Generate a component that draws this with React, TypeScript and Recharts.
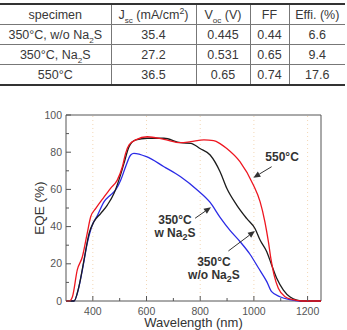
import React from "react";
import {
  LineChart,
  Line,
  XAxis,
  YAxis,
  ReferenceLine,
  ReferenceArea,
  ReferenceDot,
} from "recharts";

// device parameters
const tableHead = ["specimen", "J_{sc} (mA/cm^{2})", "V_{oc} (V)", "FF", "Effi. (%)"];
const specimens = ["350°C, w/o Na_{2}S", "350°C, Na_{2}S", "550°C"];
const jsc = ["35.4", "27.2", "36.5"];
const voc = ["0.445", "0.531", "0.65"];
const ff = ["0.44", "0.65", "0.74"];
const effi = ["6.6", "9.4", "17.6"];

// EQE spectra, [wavelength nm, EQE %]
const eqe550: number[][] = [
  [300, 0], [312, 0], [324, 2.3], [342, 16.7], [361, 23.8], [379, 36.4], [392, 45.3],
  [411, 49.8], [442, 56], [466, 60.6], [491, 65], [510, 72.2], [522, 79.4], [535, 83.9],
  [560, 86.6], [603, 88.3], [665, 86.9], [727, 85.1], [765, 85.7], [814, 86.6], [850, 86.2],
  [875, 84.5], [899, 82], [948, 74.9], [998, 62.4], [1023, 53.4], [1041, 42.6], [1054, 31.9],
  [1063, 23], [1075, 14], [1091, 6.8], [1116, 2.3], [1147, 0.7], [1180, 0], [1250, 0],
];
const eqe350noNa: number[][] = [
  [300, 0], [330, 0], [348, 7.7], [367, 22], [386, 36.4], [404, 42.6], [429, 47],
  [454, 51.6], [479, 57.9], [497, 65], [516, 74], [535, 83], [560, 86.6], [603, 87.5],
  [665, 87.5], [727, 85.1], [765, 84.8], [799, 82], [837, 78.5], [874, 69.5], [899, 60.6],
  [936, 51.6], [973, 44.4], [1004, 39], [1023, 32.8], [1048, 26.5], [1066, 19.4],
  [1085, 12.2], [1110, 5.9], [1135, 2.1], [1160, 0.5], [1190, 0], [1250, 0],
];
const eqe350Na: number[][] = [
  [300, 0], [330, 0], [342, 4], [361, 16.7], [379, 31], [398, 40.9], [417, 46],
  [442, 53.4], [466, 57], [485, 59.7], [504, 65], [522, 72.2], [541, 78.5], [553, 79.4],
  [600, 77.6], [665, 72.2], [727, 66.8], [789, 59.7], [837, 53], [874, 45], [911, 38],
  [948, 32], [986, 25], [1016, 18], [1048, 10.4], [1066, 5], [1097, 2.3], [1135, 0.7],
  [1170, 0], [1250, 0],
];

const xTicks = [400, 500, 600, 700, 800, 900, 1000, 1100, 1200];
const xMajor = [400, 600, 800, 1000, 1200];
const yTicks = [0, 10, 20, 30, 40, 50, 60, 70, 80, 90, 100];

// curve labels: text anchor and arrow (from -> to), in data units
const labelText = [["550°C"], ["350°C", "w Na_{2}S"], ["350°C", "w/o Na_{2}S"]];
const labelAt = [[1105, 77.5], [706, 39.8], [851, 17.7]];
const arrowFrom = [[1066, 72.2], [781, 44.5], [905, 26.9]];
const arrowTo = [[998, 66.3], [840, 50.4], [1004, 37.6]];

const toRows = (pts: number[][]) => pts.map(([wl, eqe]) => ({ wl, eqe }));

type Seg = { t: string; k: "n" | "sub" | "sup" };
const parse = (s: string): Seg[] =>
  s
    .split(/(_\{[^}]*\}|\^\{[^}]*\})/)
    .filter(Boolean)
    .map((p) =>
      p.startsWith("_{")
        ? { t: p.slice(2, -1), k: "sub" as const }
        : p.startsWith("^{")
        ? { t: p.slice(2, -1), k: "sup" as const }
        : { t: p, k: "n" as const }
    );

const Html = ({ s }: { s: string }) => (
  <>
    {parse(s).map((g, i) =>
      g.k === "n" ? (
        <span key={i}>{g.t}</span>
      ) : g.k === "sub" ? (
        <sub key={i} style={{ fontSize: "0.65em", lineHeight: 0 }}>{g.t}</sub>
      ) : (
        <sup key={i} style={{ fontSize: "0.7em", lineHeight: 0 }}>{g.t}</sup>
      )
    )}
  </>
);

const svgSpans = (s: string) => {
  let shift = 0;
  return parse(s).map((g, i) => {
    const target = g.k === "sub" ? 3 : g.k === "sup" ? -4 : 0;
    const dy = target - shift;
    shift = target;
    return (
      <tspan key={i} dy={dy} fontSize={g.k === "n" ? undefined : 9}>
        {g.t}
      </tspan>
    );
  });
};

const XTick = (props: any) => {
  const { x, y, payload } = props;
  const major = xMajor.includes(payload.value);
  return (
    <g>
      <line x1={x} x2={x} y1={y} y2={y - (major ? 5 : 3)} stroke="#555" />
      {major && (
        <text x={x} y={y + 13.5} textAnchor="middle" fontSize={10.5} fill="#555">
          {payload.value}
        </text>
      )}
    </g>
  );
};

const YTick = (props: any) => {
  const { x, y, payload } = props;
  const major = payload.value % 20 === 0;
  return (
    <g>
      <line x1={x} x2={x + (major ? 5 : 3)} y1={y} y2={y} stroke="#555" />
      {major && (
        <text x={x - 4} y={y + 3.5} textAnchor="end" fontSize={10.5} fill="#555">
          {payload.value}
        </text>
      )}
    </g>
  );
};

const Arrow = (props: any) => {
  const { x1, y1, x2, y2 } = props;
  const a = Math.atan2(y2 - y1, x2 - x1);
  const L = 7;
  const W = 3;
  const bx = x2 - L * Math.cos(a);
  const by = y2 - L * Math.sin(a);
  const px = -Math.sin(a) * W;
  const py = Math.cos(a) * W;
  return (
    <g>
      <line x1={x1} y1={y1} x2={bx} y2={by} stroke="#333" strokeWidth={1} />
      <polygon points={`${x2},${y2} ${bx + px},${by + py} ${bx - px},${by - py}`} fill="#333" />
    </g>
  );
};

const NoteText = (lines: string[]) => (props: any) => {
  const { cx, cy } = props;
  const lh = 13;
  const top = cy - ((lines.length - 1) * lh) / 2 + 4;
  return (
    <text textAnchor="middle" fontSize={12} fontWeight="bold" fill="#333">
      {lines.map((ln, i) => (
        <tspan key={i} x={cx} y={top + i * lh}>
          {svgSpans(ln)}
        </tspan>
      ))}
    </text>
  );
};

const cellLine = "1px solid #777";

const App: React.FC = () => {
  const rows = specimens.map((s, i) => [s, jsc[i], voc[i], ff[i], effi[i]]);
  const colW = [111, 85, 54, 39, 56];

  return (
    <div
      style={{
        position: "absolute",
        left: 0,
        top: 0,
        width: 347,
        height: 330,
        background: "#fff",
        fontFamily: '"Liberation Sans", Arial, sans-serif',
      }}
    >
      <table
        style={{
          position: "absolute",
          top: 3,
          left: 0,
          width: 345,
          borderCollapse: "collapse",
          tableLayout: "fixed",
          fontSize: 12.5,
          color: "#383838",
          borderTop: "2px solid #333",
          borderBottom: "2px solid #333",
        }}
      >
        <colgroup>
          {colW.map((w, i) => (
            <col key={i} style={{ width: w }} />
          ))}
        </colgroup>
        <thead>
          <tr>
            {tableHead.map((h, i) => (
              <th
                key={i}
                style={{
                  height: 19,
                  padding: 0,
                  fontWeight: "normal",
                  borderLeft: i ? cellLine : "none",
                  borderBottom: cellLine,
                }}
              >
                <Html s={h} />
              </th>
            ))}
          </tr>
        </thead>
        <tbody>
          {rows.map((r, ri) => (
            <tr key={ri}>
              {r.map((c, ci) => (
                <td
                  key={ci}
                  style={{
                    height: 19,
                    padding: 0,
                    textAlign: "center",
                    borderLeft: ci ? cellLine : "none",
                    borderBottom: ri < rows.length - 1 ? cellLine : "none",
                  }}
                >
                  <Html s={c} />
                </td>
              ))}
            </tr>
          ))}
        </tbody>
      </table>

      <div style={{ position: "absolute", left: 0, top: 100 }}>
        <LineChart width={347} height={230} margin={{ top: 15, right: 26, bottom: 0, left: 0 }}>
          <XAxis
            dataKey="wl"
            type="number"
            domain={[300, 1250]}
            ticks={xTicks}
            interval={0}
            tick={<XTick />}
            tickSize={0}
            tickMargin={0}
            tickLine={false}
            axisLine={false}
            height={29}
            allowDataOverflow
            label={{
              content: ({ viewBox }: any) => (
                <text
                  x={viewBox.x + viewBox.width / 2}
                  y={viewBox.y + viewBox.height - 3}
                  textAnchor="middle"
                  fontSize={13}
                  fill="#333"
                >
                  Wavelength (nm)
                </text>
              ),
            }}
          />
          <YAxis
            type="number"
            domain={[0, 100]}
            ticks={yTicks}
            interval={0}
            tick={<YTick />}
            tickSize={0}
            tickMargin={0}
            tickLine={false}
            axisLine={false}
            width={66}
            label={{
              content: ({ viewBox }: any) => {
                const cx = 39;
                const cy = viewBox.y + viewBox.height / 2;
                return (
                  <text
                    x={cx}
                    y={cy}
                    transform={`rotate(-90 ${cx} ${cy})`}
                    textAnchor="middle"
                    dominantBaseline="central"
                    fontSize={13.5}
                    fill="#333"
                  >
                    EQE (%)
                  </text>
                );
              },
            }}
          />
          {xMajor.map((v) => (
            <ReferenceLine
              key={v}
              x={v}
              stroke="#f3d7b6"
              strokeDasharray="1 3"
              strokeWidth={1}
            />
          ))}
          <ReferenceArea x1={300} x2={1250} y1={0} y2={100} fill="none" stroke="#555" strokeWidth={1} />
          <Line
            data={toRows(eqe350Na)}
            dataKey="eqe"
            type="monotone"
            stroke="#2b2be6"
            strokeWidth={1.3}
            dot={false}
            isAnimationActive={false}
          />
          <Line
            data={toRows(eqe350noNa)}
            dataKey="eqe"
            type="monotone"
            stroke="#1c1c1c"
            strokeWidth={1.3}
            dot={false}
            isAnimationActive={false}
          />
          <Line
            data={toRows(eqe550)}
            dataKey="eqe"
            type="monotone"
            stroke="#ee1620"
            strokeWidth={1.3}
            dot={false}
            isAnimationActive={false}
          />
          {arrowFrom.map((f, i) => (
            <ReferenceLine
              key={`a${i}`}
              segment={[
                { x: f[0], y: f[1] },
                { x: arrowTo[i][0], y: arrowTo[i][1] },
              ]}
              shape={Arrow}
            />
          ))}
          {labelAt.map((p, i) => (
            <ReferenceDot
              key={`t${i}`}
              x={p[0]}
              y={p[1]}
              r={0}
              shape={NoteText(labelText[i])}
            />
          ))}
        </LineChart>
      </div>
    </div>
  );
};

export default App;
